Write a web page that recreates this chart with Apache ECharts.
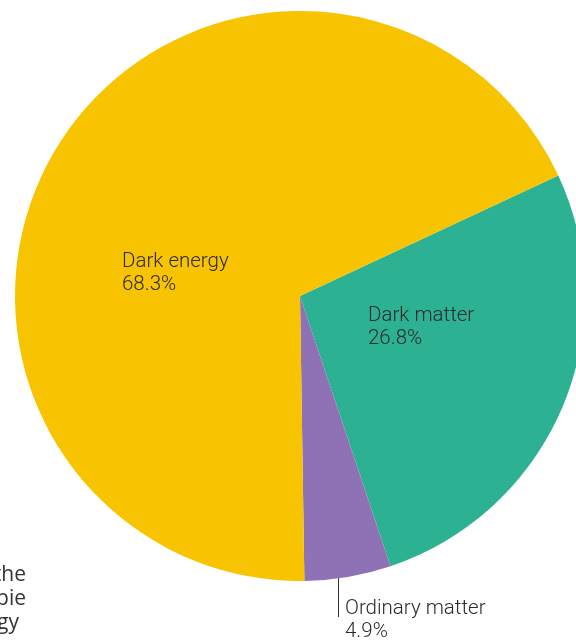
<!DOCTYPE html>
<html>
<head>
<meta charset="utf-8">
<script src="https://cdn.jsdelivr.net/npm/echarts@6/dist/echarts.min.js"></script>
<style>
  html, body { margin: 0; padding: 0; background: #fff; }
  #chart { width: 576px; height: 642px; }
</style>
</head>
<body>
<div id="chart"></div>
<script>
// composition of the universe (percent), clockwise from the top-right edge
var names  = ['Dark matter', 'Ordinary matter', 'Dark energy'];
var values = [26.8, 4.9, 68.3];
var colors = ['#2DB193', '#8E72B5', '#F8C300'];
// cut-off caption lines at the left edge
var captionLines = ['the', 'pie', 'gy'];

function BuildUniverseChart(elementId)
{
    var myChart = echarts.init(document.getElementById(elementId));

    var data = names.map(function (n, i) {
        return { name: n, value: values[i], itemStyle: { color: colors[i] } };
    });

    // where each label block sits (top-left corner), same order as names
    var labelPos = [[368, 305], [345, 598], [122, 251]];

    var captionPos = [[26, 575], [26, 599], [19, 623]];

    var option = {
        animation: false,
        series: [
            {
                type: 'pie',
                center: [300, 296],
                radius: 285,
                startAngle: 25,
                clockwise: true,
                silent: true,
                data: data,
                label: {
                    show: true,
                    position: 'inside',
                    formatter: '{b}\n{c}%',
                    color: '#2b2b2b',
                    fontFamily: 'Roboto',
                    fontWeight: 300,
                    fontSize: 20.5,
                    lineHeight: 22.5,
                    align: 'left'
                },
                labelLine: { show: false },
                labelLayout: function (params) {
                    var p = labelPos[params.dataIndex];
                    return { x: p[0], y: p[1], align: 'left', verticalAlign: 'top' };
                }
            }
        ],
        graphic: [
            {
                type: 'line',
                shape: { x1: 338.5, y1: 563, x2: 338.5, y2: 617 },
                style: { stroke: '#333', lineWidth: 1 },
                silent: true
            }
        ].concat(captionLines.map(function (t, i) {
            return {
                type: 'text',
                x: captionPos[i][0],
                y: captionPos[i][1],
                silent: true,
                style: {
                    text: t,
                    align: 'right',
                    verticalAlign: 'middle',
                    fill: '#333',
                    fontSize: 21,
                    fontFamily: 'Open Sans'
                }
            };
        }))
    };

    myChart.setOption(option);
    return myChart;
}

BuildUniverseChart('chart');
</script>
</body>
</html>
